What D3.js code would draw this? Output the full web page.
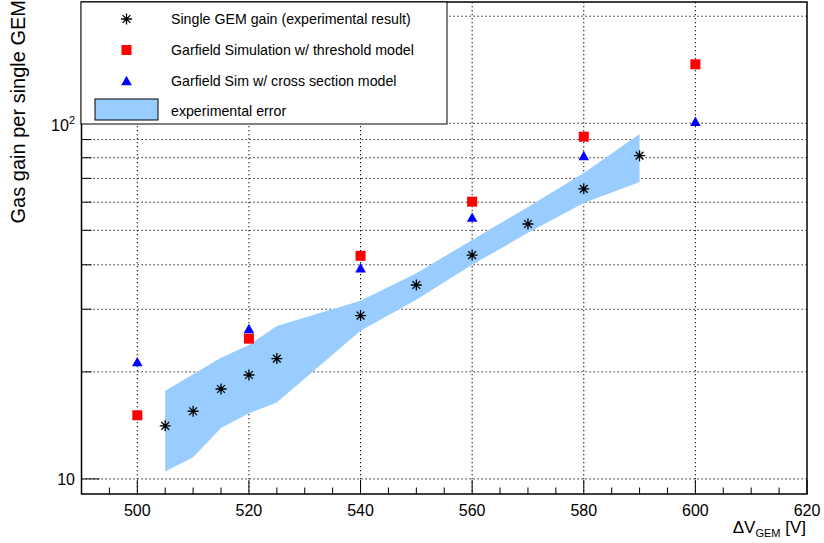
<!DOCTYPE html>
<html>
<head>
<meta charset="utf-8">
<script src="https://cdn.jsdelivr.net/npm/d3@7"></script>
<style>
  body { margin: 0; background: #fff; }
  svg { font-family: "Liberation Sans", Arial, sans-serif; }
</style>
</head>
<body>
<div class="chart"></div>
<script>
const FRAME_WIDTH = 824;
const FRAME_HEIGHT = 543;
const MARGINS = {left: 81.5, right: 17, top: 2, bottom: 49};

// experimental result (asterisks) and its error band
const EXP_VOLTAGE = [505, 510, 515, 520, 525, 540, 550, 560, 570, 580, 590];
const EXP_GAIN = [14.1, 15.5, 17.9, 19.6, 21.8, 28.8, 35.1, 42.6, 52.1, 65.4, 81.1];
const EXP_GAIN_LOW = [10.5, 11.5, 13.9, 15.3, 16.4, 26.1, 31.9, 40.0, 49.2, 59.7, 68.4];
const EXP_GAIN_HIGH = [17.7, 19.7, 21.9, 23.8, 26.9, 31.7, 37.9, 47.0, 58.2, 72.5, 93.3];

// garfield simulations
const SIM_VOLTAGE = [500, 520, 540, 560, 580, 600];
const SIM_THRESHOLD = [15.1, 24.8, 42.4, 60.2, 91.7, 146.5];
const SIM_XSECTION = [21.3, 26.4, 39.1, 54.3, 80.9, 101.0];

const X_TICKS = [500, 520, 540, 560, 580, 600, 620];
const X_MINOR = d3.range(490, 621, 5);
const Y_TICKS = [10, 20, 30, 40, 50, 60, 70, 80, 90, 100, 200];
const Y_MAJOR = [10, 100];

const LEGEND_LABELS = ["Single GEM gain (experimental result)",
                       "Garfield Simulation w/ threshold model",
                       "Garfield Sim w/ cross section model",
                       "experimental error"];

const PLOT_WIDTH = FRAME_WIDTH - MARGINS.left - MARGINS.right;
const PLOT_HEIGHT = FRAME_HEIGHT - MARGINS.top - MARGINS.bottom;

const SVG = d3.select(".chart")
              .append("svg")
              .attr("width", FRAME_WIDTH)
              .attr("height", FRAME_HEIGHT);

const X_SCALE = d3.scaleLinear()
                  .domain([490, 620])
                  .range([MARGINS.left, MARGINS.left + PLOT_WIDTH]);

const Y_SCALE = d3.scaleLog()
                  .domain([9.07, 219.3])
                  .range([MARGINS.top + PLOT_HEIGHT, MARGINS.top]);

const BAND_COLOR = "#99ccff";

// grid
const GRID = SVG.append("g")
                .attr("stroke", "#000")
                .attr("stroke-width", 1)
                .attr("stroke-dasharray", "1.3,2.7");

GRID.selectAll(".vgrid")
    .data(X_TICKS.slice(0, -1))
    .enter()
    .append("line")
      .attr("x1", (d) => X_SCALE(d))
      .attr("x2", (d) => X_SCALE(d))
      .attr("y1", MARGINS.top)
      .attr("y2", MARGINS.top + PLOT_HEIGHT);

GRID.selectAll(".hgrid")
    .data(Y_TICKS)
    .enter()
    .append("line")
      .attr("x1", MARGINS.left)
      .attr("x2", MARGINS.left + PLOT_WIDTH)
      .attr("y1", (d) => Y_SCALE(d))
      .attr("y2", (d) => Y_SCALE(d));

// error band
const BAND_DATA = EXP_VOLTAGE.map((v, i) => ({x: v, lo: EXP_GAIN_LOW[i], hi: EXP_GAIN_HIGH[i]}));

SVG.append("path")
   .datum(BAND_DATA)
   .attr("fill", BAND_COLOR)
   .attr("d", d3.area()
                .x((d) => X_SCALE(d.x))
                .y0((d) => Y_SCALE(d.lo))
                .y1((d) => Y_SCALE(d.hi)));

// marker shapes
function starPath(r) {
    const d = r * Math.SQRT1_2;
    return "M" + (-r) + ",0L" + r + ",0M0," + (-r) + "L0," + r +
           "M" + (-d) + "," + (-d) + "L" + d + "," + d +
           "M" + (-d) + "," + d + "L" + d + "," + (-d);
}
const TRIANGLE = "M0,-5.2L5.3,4.2L-5.3,4.2Z";

SVG.selectAll(".square")
   .data(SIM_VOLTAGE)
   .enter()
   .append("rect")
     .attr("x", (d) => X_SCALE(d) - 5)
     .attr("y", (d, i) => Y_SCALE(SIM_THRESHOLD[i]) - 5)
     .attr("width", 10)
     .attr("height", 10)
     .attr("fill", "#ff0000");

SVG.selectAll(".triangle")
   .data(SIM_VOLTAGE)
   .enter()
   .append("path")
     .attr("transform", (d, i) => "translate(" + X_SCALE(d) + "," + Y_SCALE(SIM_XSECTION[i]) + ")")
     .attr("d", TRIANGLE)
     .attr("fill", "#0000ff");

const STARS = SVG.selectAll(".star")
   .data(EXP_VOLTAGE)
   .enter()
   .append("g")
     .attr("transform", (d, i) => "translate(" + X_SCALE(d) + "," + Y_SCALE(EXP_GAIN[i]) + ")");
STARS.append("path")
     .attr("d", starPath(5.5))
     .attr("stroke", "#000")
     .attr("stroke-width", 1.3);
STARS.append("circle")
     .attr("r", 1.6)
     .attr("fill", "#000");

// frame
SVG.append("rect")
   .attr("x", MARGINS.left)
   .attr("y", MARGINS.top)
   .attr("width", PLOT_WIDTH)
   .attr("height", PLOT_HEIGHT)
   .attr("fill", "none")
   .attr("stroke", "#000")
   .attr("stroke-width", 1.5);

// x ticks (inward)
const BOTTOM = MARGINS.top + PLOT_HEIGHT;
SVG.selectAll(".xminor")
   .data(X_MINOR)
   .enter()
   .append("line")
     .attr("x1", (d) => X_SCALE(d))
     .attr("x2", (d) => X_SCALE(d))
     .attr("y1", BOTTOM)
     .attr("y2", (d) => BOTTOM - (d % 20 === 0 ? 14 : 6.5))
     .attr("stroke", "#000")
     .attr("stroke-width", 1);

SVG.selectAll(".xlabel")
   .data(X_TICKS)
   .enter()
   .append("text")
     .attr("x", (d) => X_SCALE(d))
     .attr("y", BOTTOM + 22)
     .attr("text-anchor", "middle")
     .attr("font-size", "16px")
     .text((d) => d);

// y ticks (inward)
SVG.selectAll(".ytick")
   .data(Y_TICKS)
   .enter()
   .append("line")
     .attr("x1", MARGINS.left)
     .attr("x2", (d) => MARGINS.left + (Y_MAJOR.includes(d) ? 18 : 10))
     .attr("y1", (d) => Y_SCALE(d))
     .attr("y2", (d) => Y_SCALE(d))
     .attr("stroke", "#000")
     .attr("stroke-width", 1);

SVG.append("text")
   .attr("x", 75)
   .attr("y", Y_SCALE(10) + 6)
   .attr("text-anchor", "end")
   .attr("font-size", "16px")
   .text("10");

const Y100 = SVG.append("text")
   .attr("x", 75)
   .attr("y", Y_SCALE(100) + 8)
   .attr("text-anchor", "end")
   .attr("font-size", "16px");
Y100.append("tspan").text("10");
Y100.append("tspan").attr("dy", -7).attr("font-size", "11px").text("2");

// axis titles
SVG.append("text")
   .attr("transform", "translate(25,0) rotate(-90)")
   .attr("text-anchor", "end")
   .attr("font-size", "20px")
   .text("Gas gain per single GEM");

const XTITLE = SVG.append("text")
   .attr("x", 806)
   .attr("y", 533)
   .attr("text-anchor", "end")
   .attr("font-size", "17px");
XTITLE.append("tspan").text("\u0394V");
XTITLE.append("tspan").attr("dy", 4).attr("font-size", "11px").text("GEM");
XTITLE.append("tspan").attr("dy", -4).text(" [V]");

// legend
const LEGEND = SVG.append("g");
LEGEND.append("rect")
      .attr("x", 81)
      .attr("y", 2)
      .attr("width", 366)
      .attr("height", 122)
      .attr("fill", "#fff")
      .attr("stroke", "#000")
      .attr("stroke-width", 1);

const ROW_Y = [19, 50, 81, 111];
const MARK_X = 126.5;

LEGEND.append("path")
      .attr("transform", "translate(" + MARK_X + "," + ROW_Y[0] + ")")
      .attr("d", starPath(5.5))
      .attr("stroke", "#000")
      .attr("stroke-width", 1.3);
LEGEND.append("circle")
      .attr("cx", MARK_X).attr("cy", ROW_Y[0]).attr("r", 1.4).attr("fill", "#000");
LEGEND.append("rect")
      .attr("x", MARK_X - 5).attr("y", ROW_Y[1] - 5)
      .attr("width", 10).attr("height", 10)
      .attr("fill", "#ff0000");
LEGEND.append("path")
      .attr("transform", "translate(" + MARK_X + "," + ROW_Y[2] + ")")
      .attr("d", TRIANGLE)
      .attr("fill", "#0000ff");
LEGEND.append("rect")
      .attr("x", 95).attr("y", 99)
      .attr("width", 63).attr("height", 21)
      .attr("fill", BAND_COLOR)
      .attr("stroke", "#000")
      .attr("stroke-width", 1);

LEGEND.selectAll(".ltext")
      .data(LEGEND_LABELS)
      .enter()
      .append("text")
        .attr("x", 171)
        .attr("y", (d, i) => ROW_Y[i] + 5)
        .attr("font-size", "14.2px")
        .text((d) => d);
</script>
</body>
</html>
